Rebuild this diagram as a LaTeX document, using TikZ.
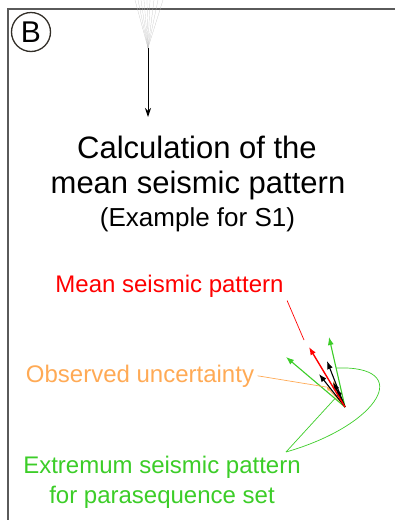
\documentclass[tikz,border=0pt]{standalone}
\usepackage{fontspec}
\setmainfont{Liberation Sans}
\usetikzlibrary{positioning,calc,arrows.meta}
\definecolor{lblred}{RGB}{255,0,0}
\definecolor{lblorange}{RGB}{255,170,85}
\definecolor{lblgreen}{RGB}{60,205,40}
\definecolor{framegray}{RGB}{90,90,90}

\begin{document}
\begin{tikzpicture}[x=1pt,y=-1pt,
    vec/.style={-{Latex[length=8pt,width=6pt]},line width=1.1pt},
    leader/.style={line width=0.7pt}]
    \useasboundingbox (0,0) rectangle (395,520);
    % frame and panel letter
    \draw[framegray,line width=1.3pt] (8,520) -- (8,9) -- (395,9);
    \node[circle,draw=black!85!olive,line width=1.3pt,minimum size=39pt,inner sep=0pt,
          font=\fontsize{30}{30}\selectfont] (panel) at (31,32) {B};
    % fan of patterns coming from above
    \coordinate (fan) at (148,48);
    \foreach \x in {135,138,141,144,147,150,154,158,163} {
        \draw[gray!50,very thin] (fan) -- (\x,0);
    }
    \coordinate (down) at (148,117);
    \draw[-{Stealth[length=9pt,width=6pt]},line width=1pt] (fan) -- (down);
    % titles
    \node[font=\fontsize{31}{35}\selectfont,anchor=base] (title1) at (197,158) {Calculation of the};
    \node[font=\fontsize{31}{35}\selectfont,anchor=base] (title2) at (198,193) {mean seismic pattern};
    \node[font=\fontsize{26}{30}\selectfont,anchor=base] (sub) at (197.5,226) {(Example for S1)};
    % seismic pattern vectors
    \coordinate (o) at (345,407);
    \foreach \name/\tx/\ty in {g1/329/337,g2/286/357} {
        \coordinate (\name) at (\tx,\ty);
        \draw[vec,lblgreen] (o) -- (\name);
    }
    \foreach \tx/\ty in {333/381,326/386} {
        \draw[-{Latex[length=5pt,width=4pt]},line width=0.9pt,lblorange] (o) -- (\tx,\ty);
    }
    \foreach \tx/\ty in {327/361,319/374,333/382,336/388} {
        \draw[vec,black] (o) -- (\tx,\ty);
    }
    \coordinate (r1) at (309,347);
    \draw[vec,lblred,line width=1.4pt] (o) -- (r1);
    % labels
    \node[font=\fontsize{24}{30}\selectfont,lblred,anchor=base] (mean) at (169.5,292) {Mean seismic pattern};
    \node[font=\fontsize{24}{30}\selectfont,lblorange,anchor=base] (obs) at (140,382) {Observed uncertainty};
    \node[font=\fontsize{24}{30}\selectfont,lblgreen,anchor=base,align=center] (ext) at (162,503)
        {Extremum seismic pattern\\for parasequence set};
    % leaders
    \coordinate (redend) at (304,340);
    \coordinate (orangeend) at (326,387);
    \coordinate (fork) at (286,452);
    \draw[leader,lblred] (mean.south east) -- (redend);
    \draw[leader,lblorange] (obs.east) -- (orangeend);
    \draw[leader,lblgreen] (fork) -- ($(o)!0.17!(g2)$);
    \draw[leader,lblgreen] (fork) .. controls (380,425) and (415,365) .. ($(o)!0.557!(g1)$);
\end{tikzpicture}
\end{document}
